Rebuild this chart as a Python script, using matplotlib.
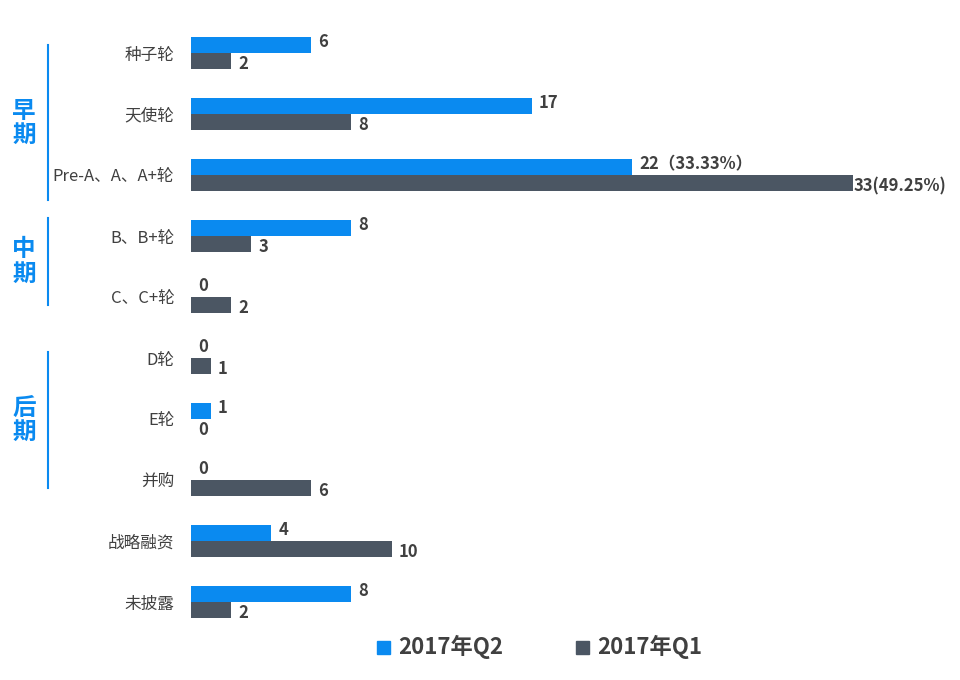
import matplotlib
matplotlib.use("Agg")
import matplotlib.pyplot as plt
from matplotlib.patches import Rectangle

plt.rcParams['font.family'] = ['Noto Sans CJK SC', 'DejaVu Sans']

categories = ["种子轮", "天使轮", "Pre-A、A、A+轮", "B、B+轮", "C、C+轮", "D轮", "E轮", "并购", "战略融资", "未披露"]
q2 = [6, 17, 22, 8, 0, 0, 1, 0, 4, 8]
q1 = [2, 8, 33, 3, 2, 1, 0, 6, 10, 2]
q2_labels = ["6", "17", "22（33.33%）", "8", "0", "0", "1", "0", "4", "8"]
q1_labels = ["2", "8", "33(49.25%)", "3", "2", "1", "0", "6", "10", "2"]
series = ["2017年Q2", "2017年Q1"]
groups = [("早期", 45, 200), ("中期", 218, 305), ("后期", 352, 488)]

blue = "#0A8AF0"
dark = "#4B5663"
txt = "#404040"

W, H = 960, 680
fig = plt.figure(figsize=(9.6, 6.8), dpi=100)
ax = fig.add_axes([191/W, 1-632.5/H, (W-191)/W, 610/H])
h = 0.26
ys = list(range(len(categories)))
ax.barh([y - h/2 for y in ys], q2, height=h, color=blue)
ax.barh([y + h/2 for y in ys], q1, height=h, color=dark)
for y, v, l in zip(ys, q2, q2_labels):
    ax.text(v + 0.35, y - h/2 - 0.05, l, va='center', ha='left', fontsize=12, fontweight='bold', color=txt)
for y, v, l in zip(ys, q1, q1_labels):
    ax.text(v + 0.35 if v < 30 else v + 0.05, y + h/2 + 0.05, l, va='center', ha='left', fontsize=12, fontweight='bold', color=txt)
ax.set_xlim(0, (W-191)/20.06)
ax.set_ylim(len(categories)-0.5, -0.5)
ax.set_yticks(ys)
ax.set_yticklabels(categories, fontsize=12, color=txt)
ax.tick_params(axis='y', length=0, pad=12)
ax.set_xticks([])
for s in ax.spines.values():
    s.set_visible(False)

for name, y0, y1 in groups:
    fig.add_artist(plt.Line2D([48/W, 48/W], [1-y0/H, 1-y1/H], color=blue, lw=1.5))
    fig.text(24/W, 1-(y0+y1)/2/H, "\n".join(name), color=blue, fontsize=17, fontweight='bold',
             ha='center', va='center', linespacing=1.0)

for x, c, name in [(377, blue, series[0]), (576, dark, series[1])]:
    fig.add_artist(Rectangle((x/W, 1-654/H), 13/W, 13/H, color=c, transform=fig.transFigure))
    fig.text((x+21)/W, 1-647/H, name, fontsize=16, fontweight='bold', color=txt, va='center', ha='left')

fig.savefig("out.png", dpi=100, facecolor='white')
